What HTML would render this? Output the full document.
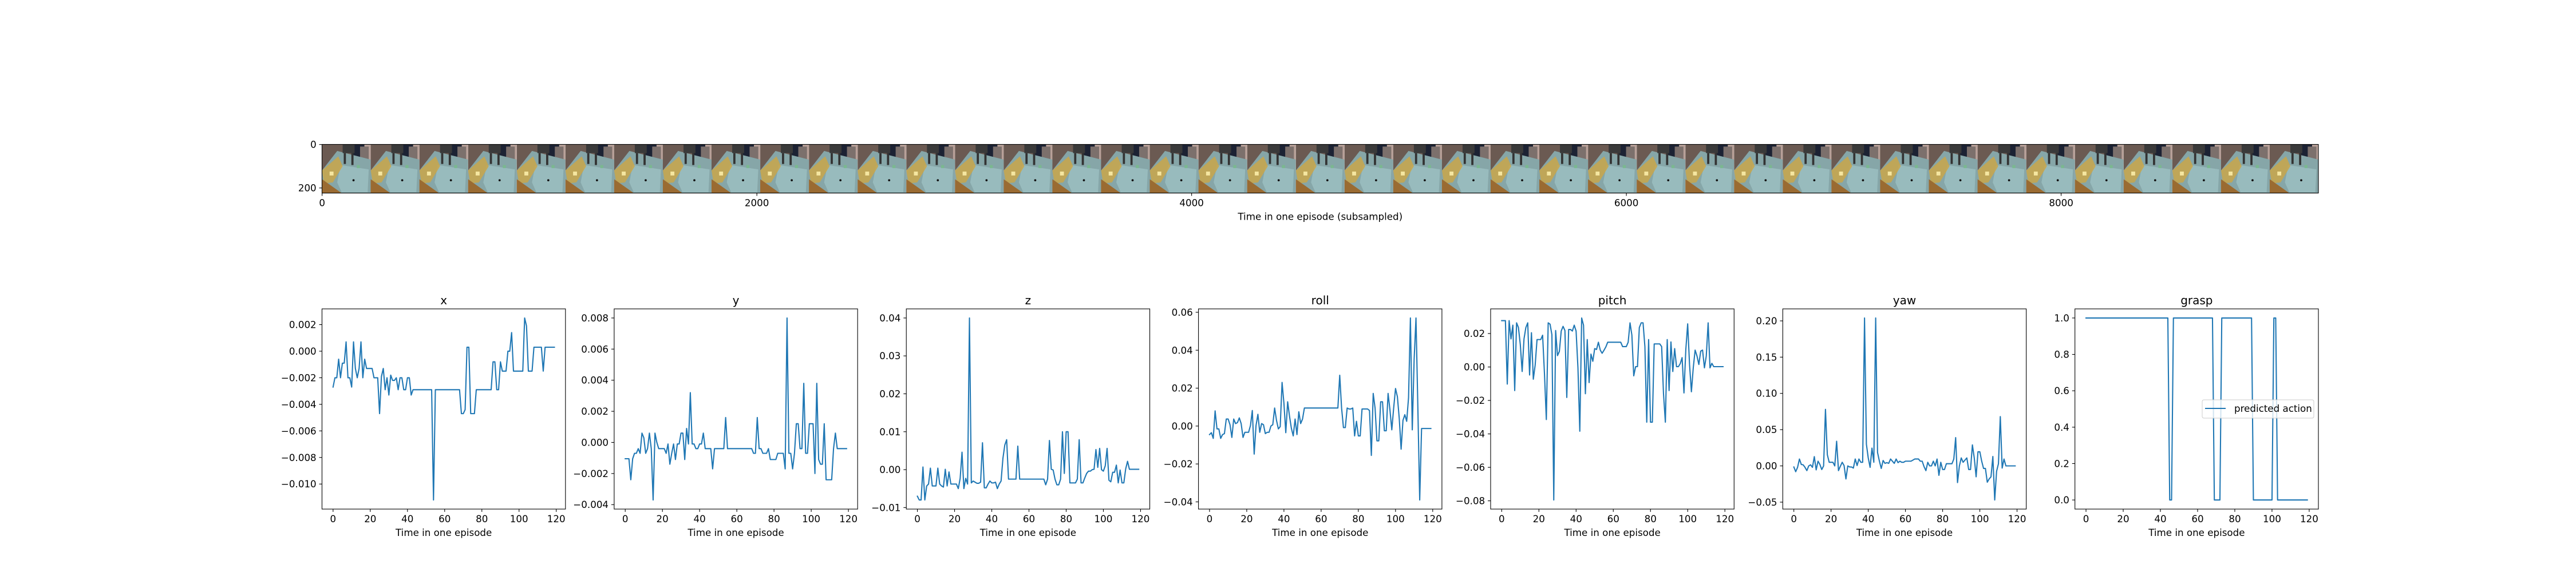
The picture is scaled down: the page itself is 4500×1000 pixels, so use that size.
<!DOCTYPE html>
<html>
<head>
<meta charset="utf-8">
<style>
html,body{margin:0;padding:0;background:#fff;}
svg{display:block;}
text{font-family:"DejaVu Sans","Liberation Sans",sans-serif;fill:#000;}
</style>
</head>
<body>
<svg id="fig" xmlns="http://www.w3.org/2000/svg" width="4500" height="1000" viewBox="0 0 4500 1000">
<defs>
<clipPath id="tileclip"><rect x="0" y="0" width="224" height="224"/></clipPath>
<g id="tile" clip-path="url(#tileclip)">
<rect x="0" y="0" width="224" height="224" fill="#6b5a52"/>
<polygon points="130,0 200,0 200,60 150,70" fill="#1c2233"/>
<rect x="195" y="0" width="29" height="90" fill="#b8a098"/>
<rect x="175" y="10" width="40" height="70" fill="#7c706c"/>
<polygon points="70,30 224,70 224,224 60,224 0,170 0,120" fill="#86a6a8"/>
<polygon points="85,95 215,115 210,220 90,220 70,175" fill="#98bbbd"/>
<polygon points="0,120 75,55 95,100 50,175 10,180" fill="#c9a64a" opacity="0.85"/>
<rect x="35" y="125" width="18" height="18" fill="#f5e6a0"/>
<polygon points="0,160 90,224 0,224" fill="#9a6b32"/>
<rect x="95" y="0" width="55" height="40" fill="#3a3a3a"/>
<rect x="100" y="40" width="10" height="50" fill="#333"/>
<rect x="135" y="40" width="10" height="55" fill="#333"/>
<circle cx="145" cy="165" r="5" fill="#111"/>
<rect x="160" y="95" width="14" height="14" fill="#7ab890"/>
</g>
</defs>
<g id="strip"></g>
<g id="panels"></g>
</svg>
<script>
// ---------- data ----------
const timeTicks = [0, 20, 40, 60, 80, 100, 120];
const panelTitles = ["x", "y", "z", "roll", "pitch", "yaw", "grasp"];

const xAction = [
-0.0027,-0.002,-0.002,-0.0006,-0.002,-0.0009,-0.0009,0.0007,-0.002,-0.002,
-0.0027,0.0007,-0.0013,-0.002,-0.0013,0.0007,-0.002,-0.0006,-0.0013,-0.0013,
-0.0013,-0.0013,-0.002,-0.002,-0.002,-0.0047,-0.0019,-0.0013,-0.0029,-0.002,
-0.0033,-0.0018,-0.0022,-0.0022,-0.002,-0.0029,-0.002,-0.002,-0.0029,-0.0029,
-0.002,-0.002,-0.0033,-0.0029,-0.0029,-0.0029,-0.0029,-0.0029,-0.0029,-0.0029,
-0.0029,-0.0029,-0.0029,-0.0029,-0.0112,-0.0029,-0.0029,-0.0029,-0.0029,-0.0029,
-0.0029,-0.0029,-0.0029,-0.0029,-0.0029,-0.0029,-0.0029,-0.0029,-0.0029,-0.0047,
-0.0047,-0.0044,0.0003,0.0003,-0.0047,-0.0047,-0.0047,-0.0029,-0.0029,-0.0029,
-0.0029,-0.0029,-0.0029,-0.0029,-0.0029,-0.0029,-0.0008,-0.0008,-0.0029,-0.0029,
-0.0008,-0.0015,-0.0015,-0.0015,0,0,0.0014,-0.0015,-0.0015,-0.0015,
-0.0015,-0.0015,-0.0015,0.0025,0.0019,-0.0015,-0.0015,-0.0015,0.0003,0.0003,
0.0003,0.0003,0.0003,-0.0015,0.0003,0.0003,0.0003,0.0003,0.0003,0.0003];

const yAction = [
-0.00105,-0.00105,-0.00105,-0.0024,-0.00105,-0.0007,-0.0007,-0.0004,-0.0007,0.0006,
0.0003,-0.0007,-0.0004,0.0006,-0.0004,-0.0037,0.0006,0,-0.0004,-0.0004,
-0.0004,-0.0004,-0.0007,-0.0001,-0.0014,-0.0007,-0.0001,-0.0011,-0.0001,-0.0001,
0.0006,0.0006,-0.0011,0.0009,-0.0001,0.0032,-0.0001,-0.0001,-0.0004,-0.0004,
-0.0001,-0.0001,0.0006,-0.0004,-0.0004,-0.0004,-0.0004,-0.0017,-0.0004,-0.0004,
-0.0004,-0.0004,-0.0004,-0.0004,0.0016,-0.0004,-0.0004,-0.0004,-0.0004,-0.0004,
-0.0004,-0.0004,-0.0004,-0.0004,-0.0004,-0.0004,-0.0004,-0.0004,-0.0004,-0.0007,
-0.0007,0.0016,-0.0004,-0.0004,-0.0007,-0.0007,-0.0007,-0.0004,-0.0011,-0.0011,
-0.0011,-0.0011,-0.0007,-0.0007,-0.0007,-0.0007,-0.0017,0.008,-0.0007,-0.0007,
-0.0017,-0.0007,0.0012,0.0012,-0.0004,-0.0004,0.0038,-0.0007,-0.0007,0.0012,
0.0012,0.0012,-0.002,0.0038,-0.0011,-0.0014,-0.0014,0.0012,-0.0024,-0.0024,
-0.0024,-0.0024,-0.0004,0.0006,-0.0004,-0.0004,-0.0004,-0.0004,-0.0004,-0.0004];

const zAction = [
-0.007,-0.008,-0.008,0.0007,-0.008,-0.0043,-0.0038,0.0004,-0.0043,-0.0043,
-0.0043,0.0004,-0.0038,-0.0043,-0.0046,0.0001,-0.0043,-0.0006,-0.0038,-0.0038,
-0.0038,-0.0038,-0.005,-0.0023,0.0046,-0.005,-0.0023,-0.0038,0.040,-0.0035,
-0.003,-0.0033,-0.0036,-0.0036,-0.0033,0.0071,-0.0048,-0.0048,-0.0038,-0.003,
-0.0035,-0.0035,-0.0033,-0.005,-0.0038,-0.003,0.003,0.0065,0.0079,-0.0025,
-0.0025,-0.0025,-0.0025,-0.0025,0.0062,-0.0025,-0.0025,-0.0025,-0.0025,-0.0025,
-0.0025,-0.0025,-0.0025,-0.0025,-0.0025,-0.0025,-0.0025,-0.0025,-0.0025,-0.004,
-0.0025,0.0077,0.0001,-0.0001,-0.0025,-0.004,-0.004,-0.0025,0.01,-0.001,
0.01,0.01,-0.0035,-0.0035,-0.0035,-0.0035,-0.0025,0.0079,-0.0035,-0.0035,
-0.0022,-0.001,-0.0004,-0.0004,0,0.0001,0.0053,0.0006,0.0056,0,
-0.0004,0.001,0.0056,-0.0028,-0.0032,-0.0007,-0.0007,0.0012,-0.0035,-0.0001,
-0.0035,-0.0035,0.0002,0.0022,0.0001,0.0001,0.0001,0.0001,0.0001,0.0001];

const rollAction = [
-0.0045,-0.0035,-0.0065,0.008,-0.0015,-0.0015,-0.0065,-0.0045,-0.004,0.0037,
0.0037,0.0007,-0.006,0.0037,0.0013,0.0018,0.0043,0.0013,-0.006,-0.0033,
-0.0033,-0.0033,0.0003,0.0082,-0.0148,0.0003,0.0062,-0.0033,0.0013,0.0007,
-0.004,-0.0033,-0.0033,0,0.0007,0.0095,0.003,-0.0015,-0.0003,0.023,
0.012,-0.0035,0.0128,0.0052,-0.0012,-0.0052,0.0037,-0.0045,0.0075,0.0013,
0.0037,0.0095,0.0095,0.0095,0.0095,0.0095,0.0095,0.0095,0.0095,0.0095,
0.0095,0.0095,0.0095,0.0095,0.0095,0.0095,0.0095,0.0095,0.0095,0.0095,
0.0268,0.0095,-0.0008,-0.0008,0.0095,0.009,0.009,0.0095,-0.0052,0.0025,
-0.0052,-0.0052,0.009,0.009,0.009,0.009,0.0082,-0.0155,0.0172,0.0095,
-0.0078,-0.0078,0.0128,0.0128,-0.0025,-0.0025,0.0172,0.0085,-0.002,0.0095,
0.0198,0.0155,0.004,-0.0122,0.003,0.006,0.0025,0.015,0.057,-0.002,
0.035,0.057,0.01,-0.039,-0.0013,-0.0013,-0.0013,-0.0013,-0.0013,-0.0013];

const pitchAction = [
0.0277,0.0277,0.0277,-0.0102,0.0277,0.0168,0.025,-0.0141,0.0264,0.0236,
0.0135,-0.0027,0.0168,0.0236,0.0264,-0.0048,0.0205,-0.0073,0.0011,0.0164,
0.0164,0.0164,0.019,-0.004,-0.0314,0.0264,0.0256,0.0193,-0.0795,0.0218,
0.0068,0.0093,0.0215,0.0243,0.0218,-0.0182,0.0224,0.0224,0.0215,0.025,
0.0215,-0.0005,-0.0384,0.0293,0.025,-0.016,0.0164,-0.0093,0.0077,0.0034,
0.011,0.0105,0.0148,0.0101,0.0082,0.01,0.012,0.0148,0.0148,0.0148,
0.0148,0.0148,0.0148,0.0148,0.0148,0.0122,0.0122,0.0122,0.0148,0.0264,
0.019,-0.0053,0.0002,0.0002,0.0236,0.0264,0.0264,0.0122,-0.033,0.0164,
-0.033,-0.033,0.0138,0.0138,0.0138,0.0138,0.0122,-0.016,-0.033,0.0164,
-0.0141,0.015,-0.0027,0.011,0.0002,0.0002,0.002,0.0056,-0.0155,0.0105,
0.0258,0.0015,-0.0148,-0.0005,0.0101,0.0066,0.0015,0.0095,0.0101,-0.0005,
0.0066,0.0264,-0.0005,0.0022,0.0002,0.0002,0.0002,0.0002,0.0002,0.0002];

const yawAction = [
-0.0015,-0.008,-0.002,0.0095,0.002,0.0015,-0.002,-0.0065,0,0.0015,
-0.002,0.0128,-0.0055,0.0065,0.002,-0.005,0,0.078,0.0155,0.005,
0.005,0.005,0,0.034,-0.0065,-0.0005,0.005,0.0005,-0.018,0,
-0.0015,-0.0015,-0.003,0.0095,0.0005,0.0095,0.005,0.005,0.204,0.03,
0.011,-0.002,0.0245,0.005,0.204,0.0185,0.0065,-0.0035,0.0075,0.0035,
0.0045,0.0035,0.0095,0.0065,0.0035,0.0095,0.0045,0.0065,0.005,0.005,
0.0065,0.0065,0.0065,0.0065,0.008,0.0095,0.0095,0.0095,0.0065,0.0065,
-0.001,-0.0065,0.005,0,0,0.0065,0,0.0095,-0.013,0.005,
-0.005,-0.005,0.003,0.003,0.003,0.003,0.0095,0.039,-0.023,0,
0.011,0.005,0.008,0.011,-0.005,-0.005,0.029,0.011,-0.015,0.0195,
0.0195,0.0065,-0.0035,-0.0035,-0.0225,-0.018,-0.015,0.013,-0.047,-0.0075,
0.003,0.068,-0.003,0.0095,0,0,0,0,0,0];

const graspAction = [
1,1,1,1,1,1,1,1,1,1,
1,1,1,1,1,1,1,1,1,1,
1,1,1,1,1,1,1,1,1,1,
1,1,1,1,1,1,1,1,1,1,
1,1,1,1,1,0,0,1,1,1,
1,1,1,1,1,1,1,1,1,1,
1,1,1,1,1,1,1,1,1,0,
0,0,0,1,1,1,1,1,1,1,
1,1,1,1,1,1,1,1,1,1,
0,0,0,0,0,0,0,0,0,0,
0,1,1,0,0,0,0,0,0,0,
0,0,0,0,0,0,0,0,0,0];

const xTicksVals = [-0.010,-0.008,-0.006,-0.004,-0.002,0.000,0.002];
const xTickLabels = ["\u22120.010","\u22120.008","\u22120.006","\u22120.004","\u22120.002","0.000","0.002"];
const yTicksVals = [-0.004,-0.002,0.000,0.002,0.004,0.006,0.008];
const yTickLabels = ["\u22120.004","\u22120.002","0.000","0.002","0.004","0.006","0.008"];
const zTicksVals = [-0.01,0.00,0.01,0.02,0.03,0.04];
const zTickLabels = ["\u22120.01","0.00","0.01","0.02","0.03","0.04"];
const rollTicksVals = [-0.04,-0.02,0.00,0.02,0.04,0.06];
const rollTickLabels = ["\u22120.04","\u22120.02","0.00","0.02","0.04","0.06"];
const pitchTicksVals = [-0.08,-0.06,-0.04,-0.02,0.00,0.02];
const pitchTickLabels = ["\u22120.08","\u22120.06","\u22120.04","\u22120.02","0.00","0.02"];
const yawTicksVals = [-0.05,0.00,0.05,0.10,0.15,0.20];
const yawTickLabels = ["\u22120.05","0.00","0.05","0.10","0.15","0.20"];
const graspTicksVals = [0.0,0.2,0.4,0.6,0.8,1.0];
const graspTickLabels = ["0.0","0.2","0.4","0.6","0.8","1.0"];

const stripTileCount = 41;
const stripTileSize = 224;
const stripXTicks = [0, 2000, 4000, 6000, 8000];
const stripYTicks = [0, 200];

// ---------- drawing ----------
const NS = "http://www.w3.org/2000/svg";
const svg = document.getElementById("fig");
function mk(tag, attrs, parent) {
  const e = document.createElementNS(NS, tag);
  for (const k in attrs) e.setAttribute(k, attrs[k]);
  if (parent) parent.appendChild(e);
  return e;
}
const FS = 16.7;

// strip
(function () {
  const g = document.getElementById("strip");
  const W = stripTileCount * stripTileSize, H = stripTileSize;
  const L = 562.5, R = 4050, sc = (R - L) / W;
  const T = 295 - H * sc / 2, B = T + H * sc;
  const sx = v => L + (v + 0.5) * sc;
  const sy = v => T + (v + 0.5) * sc;
  for (let i = 0; i < stripTileCount; i++) {
    const u = mk("use", {href: "#tile", transform: "translate(" + (L + i * stripTileSize * sc) + "," + T + ") scale(" + sc + ")"}, g);
    
    
  }
  const fr = mk("rect", {x: L, y: T, width: R - L, height: B - T, fill: "none", stroke: "#000", "stroke-width": 1.1}, g);
  
  
  stripXTicks.forEach(v => {
    const x = sx(v);
    mk("line", {x1: x, x2: x, y1: B, y2: B + 4.9, stroke: "#000", "stroke-width": 1.1}, g);
    const t = mk("text", {x: x, y: B + 23, "text-anchor": "middle", "font-size": FS}, g);
    t.textContent = String(v);
    
    
  });
  stripYTicks.forEach(v => {
    const y = sy(v);
    mk("line", {x1: L, x2: L - 4.9, y1: y, y2: y, stroke: "#000", "stroke-width": 1.1}, g);
    const t = mk("text", {x: L - 9.8, y: y + 6, "text-anchor": "end", "font-size": FS}, g);
    t.textContent = String(v);
    
    
  });
  const xl = mk("text", {x: (L + R) / 2, y: B + 47, "text-anchor": "middle", "font-size": FS}, g);
  xl.textContent = "Time in one episode (subsampled)";
  
  
})();

// panels
const series = [xAction, yAction, zAction, rollAction, pitchAction, yawAction, graspAction];
const tickVals = [xTicksVals, yTicksVals, zTicksVals, rollTicksVals, pitchTicksVals, yawTicksVals, graspTicksVals];
const tickLabs = [xTickLabels, yTickLabels, zTickLabels, rollTickLabels, pitchTickLabels, yawTickLabels, graspTickLabels];
const panelsG = document.getElementById("panels");
const colW = 3487.5 / 8.2, gap = colW * 0.2;
const PT = 540, PB = 890;

series.forEach((data, k) => {
  const L = 562.5 + k * (colW + gap), R = L + colW;
  const g = mk("g", {}, panelsG);
  
  
  const n = data.length;
  const xmin = 0, xmax = n - 1, xm = (xmax - xmin) * 0.05;
  const x0 = xmin - xm, x1 = xmax + xm;
  let lo = Math.min(...data), hi = Math.max(...data);
  if (hi === lo) { hi += 0.05; lo -= 0.05; }
  const ym = (hi - lo) * 0.05;
  const y0 = lo - ym, y1 = hi + ym;
  const sx = v => L + (v - x0) / (x1 - x0) * (R - L);
  const sy = v => PB - (v - y0) / (y1 - y0) * (PB - PT);

  let d = "";
  data.forEach((v, i) => { d += (i ? "L" : "M") + sx(i).toFixed(2) + "," + sy(v).toFixed(2); });
  const p = mk("path", {d: d, fill: "none", stroke: "#1f77b4", "stroke-width": 2.08, "stroke-linejoin": "round", "stroke-linecap": "square"}, g);
  
  

  const fr = mk("rect", {x: L, y: PT, width: R - L, height: PB - PT, fill: "none", stroke: "#000", "stroke-width": 1.1}, g);
  
  

  timeTicks.forEach(v => {
    if (v < x0 || v > x1) return;
    const x = sx(v);
    mk("line", {x1: x, x2: x, y1: PB, y2: PB + 4.9, stroke: "#000", "stroke-width": 1.1}, g);
    const t = mk("text", {x: x, y: 913, "text-anchor": "middle", "font-size": FS}, g);
    t.textContent = String(v);
    
    
  });
  tickVals[k].forEach((v, i) => {
    if (v < y0 || v > y1) return;
    const y = sy(v);
    mk("line", {x1: L, x2: L - 4.9, y1: y, y2: y, stroke: "#000", "stroke-width": 1.1}, g);
    const t = mk("text", {x: L - 9.8, y: y + 6, "text-anchor": "end", "font-size": FS}, g);
    t.textContent = tickLabs[k][i];
    
    
  });
  const title = mk("text", {x: (L + R) / 2, y: 532, "text-anchor": "middle", "font-size": 20}, g);
  title.textContent = panelTitles[k];
  
  
  const xl = mk("text", {x: (L + R) / 2, y: 937, "text-anchor": "middle", "font-size": FS}, g);
  xl.textContent = "Time in one episode";
  
  

  if (k === series.length - 1) {
    const lg = mk("g", {}, g);
    
    
    mk("rect", {x: R - 203, y: 699, width: 195, height: 32, rx: 3, fill: "#fff", "fill-opacity": 0.8, stroke: "#cccccc", "stroke-width": 1}, lg);
    const ll = mk("line", {x1: R - 198, x2: R - 162, y1: 714, y2: 714, stroke: "#1f77b4", "stroke-width": 2.08}, lg);
    
    
    const lt = mk("text", {x: R - 147, y: 720, "font-size": FS}, lg);
    lt.textContent = "predicted action";
    
    
  }
});
</script>
</body>
</html>
